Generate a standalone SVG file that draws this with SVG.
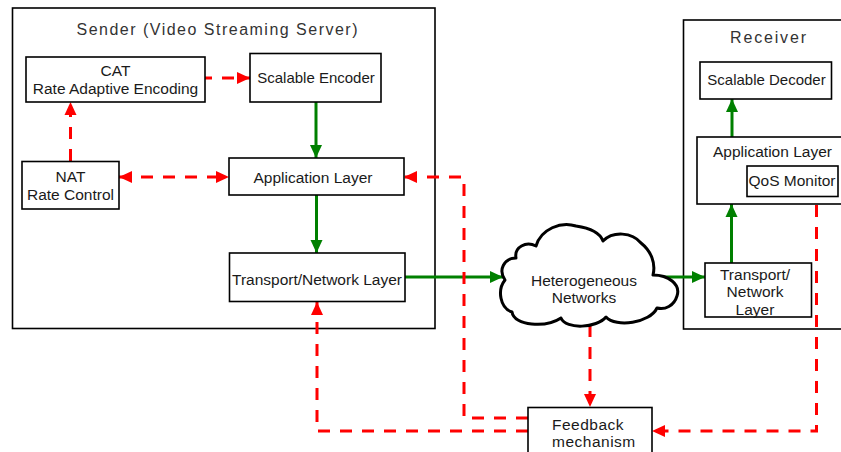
<svg xmlns="http://www.w3.org/2000/svg" width="841" height="452" viewBox="0 0 841 452">
<defs>
<style>
.box{fill:#fff;stroke:#000;stroke-width:1.6}
.frame{fill:#fff;stroke:#000;stroke-width:1.6}
.t{font-family:"Liberation Sans",Arial,sans-serif;font-size:15.5px;fill:#1a1a1a;text-anchor:middle}
.s{font-size:15px}
.title{font-family:"Liberation Sans",Arial,sans-serif;font-size:16px;fill:#333;text-anchor:middle}
.g{fill:none;stroke:#008000;stroke-width:3;marker-end:url(#ga)}
.r{fill:none;stroke:#ff0000;stroke-width:3;stroke-dasharray:12 10}
.cloud{fill:#fff;stroke:#000;stroke-width:3;stroke-linejoin:round}
</style>
<marker id="ga" markerUnits="userSpaceOnUse" markerWidth="14" markerHeight="14" viewBox="0 0 14 14" refX="13" refY="7" orient="auto">
<path d="M0,1 L13,7 L0,13 Z" fill="#008000"/>
</marker>
<marker id="ra" markerUnits="userSpaceOnUse" markerWidth="14" markerHeight="14" viewBox="0 0 14 14" refX="13" refY="7" orient="auto">
<path d="M0,1 L13,7 L0,13 Z" fill="#ff0000"/>
</marker>
<marker id="rs" markerUnits="userSpaceOnUse" markerWidth="14" markerHeight="14" viewBox="0 0 14 14" refX="1" refY="7" orient="auto">
<path d="M14,1 L1,7 L14,13 Z" fill="#ff0000"/>
</marker>
</defs>
<rect width="841" height="452" fill="#fff"/>

<g id="sender">
<rect class="frame" x="12.5" y="8" width="422.5" height="320.5"/>
<text class="title" x="217" y="35" textLength="281" lengthAdjust="spacing">Sender (Video Streaming Server)</text>
</g>
<g id="receiver">
<rect class="frame" x="683.5" y="20" width="170" height="309"/>
<text class="title" x="768" y="43" textLength="76" lengthAdjust="spacing">Receiver</text>
</g>

<g id="connectors">
<path class="g" d="M316,102 V158"/>
<path class="g" d="M316.5,195 V253"/>
<path class="g" d="M405,277 H503"/>
<path class="g" d="M657,277 H705"/>
<path class="g" d="M731.5,263 V204"/>
<path class="g" d="M732,137 V99"/>
<path class="r" d="M200,78 H250" marker-end="url(#ra)"/>
<path class="r" d="M70.5,161 V102" marker-end="url(#ra)"/>
<path class="r" d="M119,177 H229" marker-start="url(#rs)" marker-end="url(#ra)"/>
<path class="r" d="M528,418 H464 V177 H404" marker-end="url(#ra)"/>
<path class="r" d="M528,431 H317 V302" marker-end="url(#ra)"/>
<path class="r" d="M590,325 V407" marker-end="url(#ra)"/>
<path class="r" d="M816.5,205 V431 H652" marker-end="url(#ra)"/>
</g>

<g id="cat">
<rect class="box" x="26" y="57" width="179" height="45"/>
<text class="t" x="115.5" y="76">CAT</text>
<text class="t" x="115.5" y="93.5">Rate Adaptive Encoding</text>
</g>
<g id="encoder">
<rect class="box" x="250" y="53.5" width="131" height="48.5"/>
<text class="t s" x="316" y="83">Scalable Encoder</text>
</g>
<g id="nat">
<rect class="box" x="22" y="161.5" width="97" height="47.5"/>
<text class="t" x="70.5" y="182">NAT</text>
<text class="t" x="70.5" y="200">Rate Control</text>
</g>
<g id="app-sender">
<rect class="box" x="229" y="158" width="175" height="37"/>
<text class="t" x="313" y="183">Application Layer</text>
</g>
<g id="transport-sender">
<rect class="box" x="229.5" y="253" width="175.5" height="48.5"/>
<text class="t" x="317" y="285">Transport/Network Layer</text>
</g>
<g id="cloud">
<path class="cloud" d="M505,280 C498,270 504,258 516,258 C514,247 526,241 536,246 C541,229 561,221 576,226 C590,228 600,233 603,241 C613,231 632,232 641,243 C651,251 656,263 653,275 C668,275 681,284 677,296 C674,306 665,310 657,308 C650,323 616,328 606,317 C597,328 566,330 561,318 C546,328 514,326 512,312 C500,308 497,290 505,280 Z"/>
<text class="t" x="584" y="286">Heterogeneous</text>
<text class="t" x="584" y="303">Networks</text>
</g>
<g id="decoder">
<rect class="box" x="700" y="62" width="131.5" height="37"/>
<text class="t s" x="766.5" y="85">Scalable Decoder</text>
</g>
<g id="app-receiver">
<rect class="box" x="697" y="137" width="160" height="67"/>
<text class="t" x="772.5" y="157">Application Layer</text>
</g>
<g id="qos">
<rect class="box" x="747" y="166" width="91" height="30.5"/>
<text class="t" x="792" y="185.5">QoS Monitor</text>
</g>
<g id="transport-receiver">
<rect class="box" x="705" y="263" width="106.5" height="54"/>
<text class="t" x="755" y="280">Transport/</text>
<text class="t" x="755" y="297">Network</text>
<text class="t" x="755" y="314.5">Layer</text>
</g>
<g id="feedback">
<rect class="box" x="528" y="407.5" width="124" height="60"/>
<text class="t" x="552" y="430" style="text-anchor:start" letter-spacing="0.5">Feedback</text>
<text class="t" x="552" y="447" style="text-anchor:start" letter-spacing="0.5">mechanism</text>
</g>
</svg>
